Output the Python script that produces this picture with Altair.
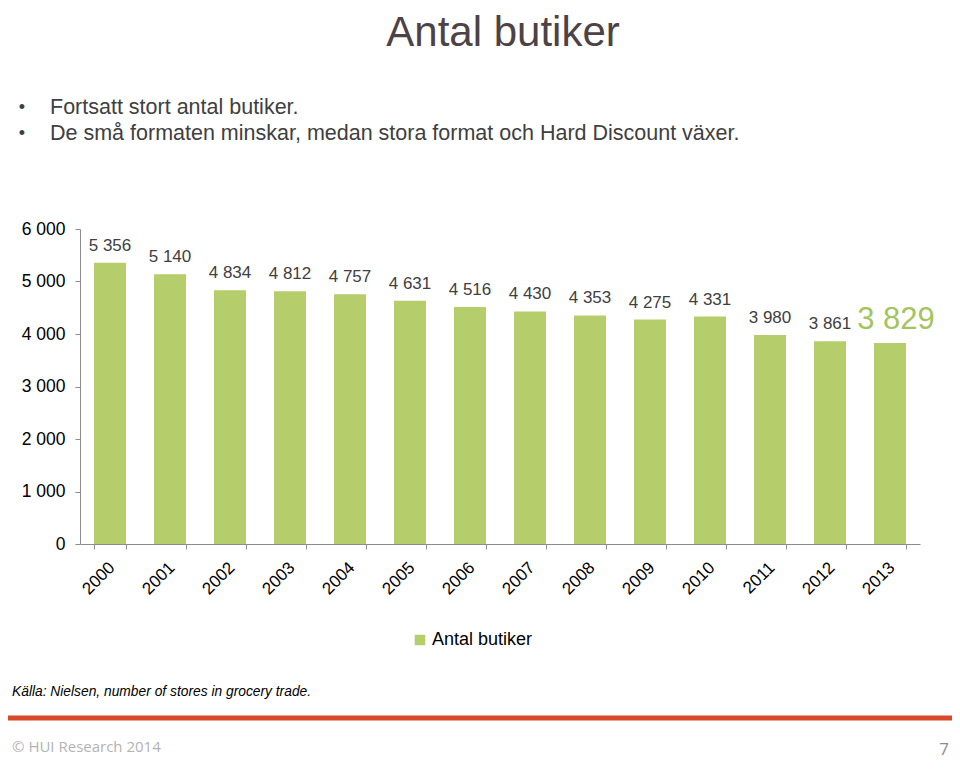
import altair as alt
import pandas as pd

years = [str(y) for y in range(2000, 2014)]
stores = [5356, 5140, 4834, 4812, 4757, 4631, 4516, 4430, 4353, 4275, 4331, 3980, 3861, 3829]
series_name = "Antal butiker"
y_ticks = [0, 1000, 2000, 3000, 4000, 5000, 6000]
highlight_year = "2013"

title_text = "Antal butiker"
bullets = ["Fortsatt stort antal butiker.",
           "De små formaten minskar, medan stora format och Hard Discount växer."]
source_text = "Källa: Nielsen, number of stores in grocery trade."
footer_text = "© HUI Research 2014"
page_no = "7"

BAR = "#b5cd6a"
FONT = "Liberation Sans"

df = pd.DataFrame({"year": years, "value": stores, "series": series_name})
one = pd.DataFrame({"k": [0]})

fmt = "replace(format(datum.value, ','), ',', ' ')"

x = alt.X("year:O", title=None,
          scale=alt.Scale(paddingInner=0.467, paddingOuter=0.2335),
          axis=alt.Axis(labelAngle=-45, labelAlign="right", labelBaseline="top",
                        labelFontSize=17, labelFont=FONT, labelColor="#000000",
                        labelPadding=10, labelOffset=-4, tickBand="extent", tickSize=5,
                        domainColor="#8c8c8c", tickColor="#8c8c8c", grid=False))
y = alt.Y("value:Q", title=None,
          scale=alt.Scale(domain=[0, 6000], nice=False),
          axis=alt.Axis(values=y_ticks, labelExpr=fmt, labelFontSize=17.5, labelFont=FONT,
                        labelColor="#000000", labelPadding=10, tickSize=5,
                        domainColor="#8c8c8c", tickColor="#8c8c8c", grid=False))

bars = alt.Chart(df).mark_bar(size=32).encode(
    x=x, y=y,
    color=alt.Color("series:N", title=None,
                    scale=alt.Scale(range=[BAR]),
                    legend=alt.Legend(orient="none", legendX=331, legendY=402,
                                      symbolType="square", symbolSize=110,
                                      symbolStrokeWidth=0, labelFontSize=18,
                                      labelFont=FONT, labelColor="#000000",
                                      labelOffset=3, padding=0)),
)

labels = alt.Chart(df).transform_filter(f"datum.year != '{highlight_year}'").transform_calculate(
    label=fmt
).mark_text(baseline="bottom", dy=-8, font=FONT, fontSize=17, color="#404040").encode(
    x="year:O", y="value:Q", text="label:N",
)

hl_label = alt.Chart(df).transform_filter(f"datum.year == '{highlight_year}'").transform_calculate(
    label=fmt
).mark_text(baseline="bottom", dy=-7, dx=6, font=FONT, fontSize=31, color="#a3c45e").encode(
    x="year:O", y="value:Q", text="label:N",
)

def txt(t, xv, yv, **kw):
    return alt.Chart(one).mark_text(text=t, **kw).encode(x=alt.value(xv), y=alt.value(yv))

title = txt(title_text, 423, -196, fontSize=42, font=FONT, align="center",
            baseline="middle", color="#4d4245")
b1dot = txt("•", -58, -121, fontSize=18, font=FONT, align="center", baseline="middle", color="#404040")
b1 = txt(bullets[0], -30, -121, fontSize=21.5, font=FONT, align="left", baseline="middle", color="#404040")
b2dot = txt("•", -58, -95, fontSize=18, font=FONT, align="center", baseline="middle", color="#404040")
b2 = txt(bullets[1], -30, -95, fontSize=21.5, font=FONT, align="left", baseline="middle", color="#404040")
src = txt(source_text, -68, 463, fontSize=13.8, font=FONT, fontStyle="italic", align="left",
          baseline="middle", color="#000000")
footer = txt(footer_text, -68, 518, fontSize=15, font="Open Sans", align="left",
             baseline="middle", color="#b3b3b3")
pnum = txt(page_no, 864, 521, fontSize=17, font="Open Sans", align="center",
           baseline="middle", color="#8c8c8c")

redline = alt.Chart(one).mark_rule(color="#d9482b", strokeWidth=5).encode(
    x=alt.value(-80), x2=alt.value(872), y=alt.value(489))

chart = alt.layer(bars, labels, hl_label, title, b1dot, b1, b2dot, b2, src, redline, footer, pnum).properties(
    width=840, height=315,
    autosize=alt.AutoSizeParams(type="none"),
    padding={"left": 72, "top": 221, "right": 32, "bottom": 216},
).configure_view(stroke=None)

chart.save("out.html", embed_options={"renderer": "svg", "actions": False})
